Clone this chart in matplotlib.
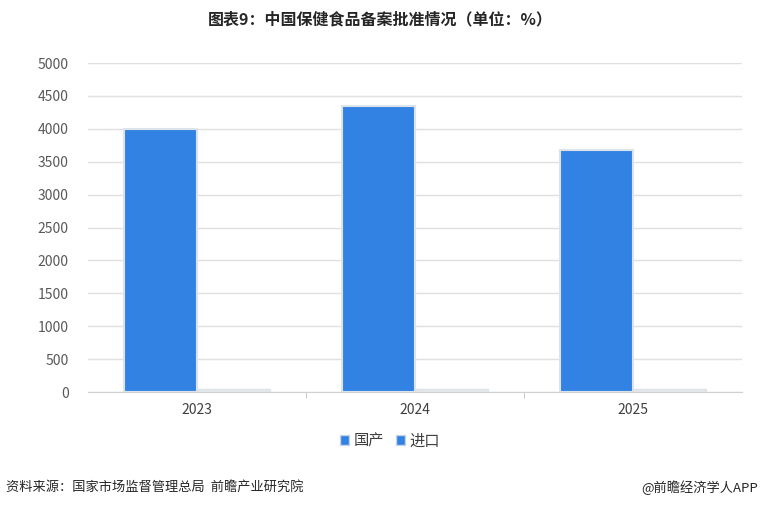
import matplotlib
matplotlib.use("Agg")
import matplotlib.pyplot as plt
import numpy as np

plt.rcParams['font.family'] = ['Noto Sans CJK SC', 'DejaVu Sans']

# data
years = ["2023", "2024", "2025"]
domestic = [4000, 4350, 3680]
imported = [40, 40, 40]

fig = plt.figure(figsize=(7.6, 5.07), dpi=100)
ax = fig.add_axes([0.1158, 0.2268, 0.8605, 0.6489])

x = np.arange(len(years))
w = 0.335
ax.bar(x - w / 2, domestic, width=w, color='#3282e3', edgecolor='#dde3ea',
       linewidth=1.5, label='国产', zorder=3)
ax.bar(x + w / 2, imported, width=w, color='#e6e6e6', edgecolor='#dde3ea',
       linewidth=1.0, label='进口', zorder=3)

ax.set_xlim(-0.5, 2.5)
ax.set_ylim(0, 5000)
ax.set_yticks(range(0, 5001, 500))
ax.tick_params(axis='y', length=0, labelsize=10, labelcolor='#595959', pad=14)
ax.set_xticks(x)
ax.set_xticklabels(years)
ax.tick_params(axis='x', length=0, labelsize=10, labelcolor='#404040', pad=8)
ax.set_xticks([0.5, 1.5], minor=True)
ax.tick_params(axis='x', which='minor', length=4, color='#bfbfbf')

ax.grid(axis='y', color='#e0e0e0', linewidth=1, zorder=0)
for s in ['top', 'right', 'left']:
    ax.spines[s].set_visible(False)
ax.spines['bottom'].set_color('#d0d0d0')

# legend markers: both small blue squares
from matplotlib.patches import Patch
handles = [Patch(facecolor='#3282e3', edgecolor='#c8d4e6', label='国产'),
           Patch(facecolor='#3282e3', edgecolor='#c8d4e6', label='进口')]
fig.legend(handles=handles, loc='center', bbox_to_anchor=(0.513, 0.13),
           ncol=2, frameon=False, fontsize=11, handlelength=0.6,
           handleheight=0.6, handletextpad=0.3, columnspacing=0.8,
           labelcolor='#404040')

fig.text(0.5, 0.962, '图表9：中国保健食品备案批准情况（单位：%）', ha='center',
         va='center', fontsize=11.5, fontweight='bold', color='#262626')
fig.text(0.008, 0.038, '资料来源：国家市场监督管理总局  前瞻产业研究院', ha='left',
         va='center', fontsize=9.5, color='#262626')
fig.text(0.997, 0.038, '@前瞻经济学人APP', ha='right', va='center',
         fontsize=9.5, color='#262626')

fig.savefig('out.png', dpi=100)
